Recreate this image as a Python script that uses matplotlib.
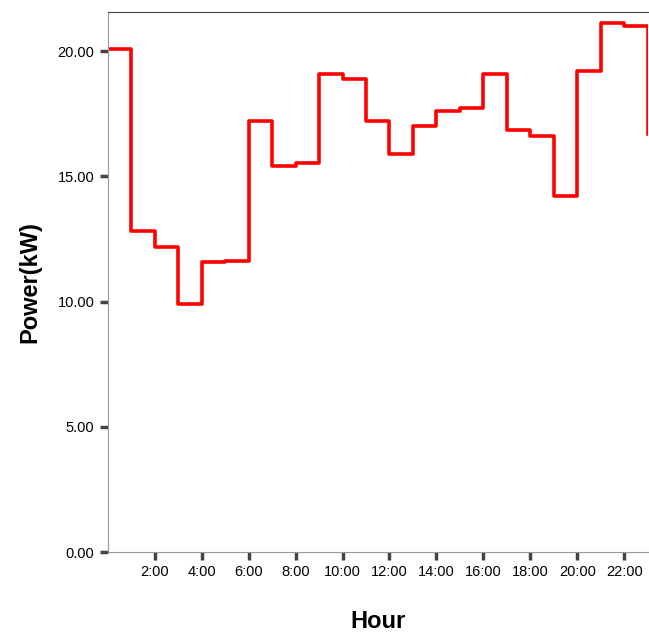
import matplotlib
matplotlib.use('Agg')
import matplotlib.pyplot as plt
import numpy as np

plt.rcParams['font.family'] = ['Liberation Sans', 'DejaVu Sans']

# hourly power values (kW), step drawn from each hour
hours = list(range(24))
power = [20.07, 12.83, 12.18, 9.9, 11.58, 11.64, 17.2, 15.4, 15.55, 19.1,
         18.88, 17.2, 15.9, 17.0, 17.6, 17.73, 19.1, 16.86, 16.6, 14.2,
         19.22, 21.14, 21.0, 16.7]
xtick_hours = [2, 4, 6, 8, 10, 12, 14, 16, 18, 20, 22]
ytick_vals = [0, 5, 10, 15, 20]

fig = plt.figure(figsize=(6.49, 6.34), dpi=100)
ax = fig.add_axes([0.166, 0.129, 0.832, 0.852])

ax.step(hours, power, where='post', color='#ff0000', lw=2.6)

ax.set_xlim(0, 23)
ax.set_ylim(0, 21.56)
ax.set_xticks(xtick_hours)
ax.set_xticklabels(['%d:00' % h for h in xtick_hours])
ax.set_yticks(ytick_vals)
ax.set_yticklabels(['%.2f' % v for v in ytick_vals])
ax.tick_params(axis='both', direction='out', length=6, width=2.5, color='#444444', labelsize=10.5)

for s in ['left', 'bottom']:
    ax.spines[s].set_color('#999999')
ax.spines['top'].set_color('#444444')
ax.spines['right'].set_visible(False)

ax.set_xlabel('Hour', fontsize=17, fontweight='bold', labelpad=22)
ax.set_ylabel('Power(kW)', fontsize=17, fontweight='bold', labelpad=12)

fig.savefig('out.png', dpi=100, facecolor='white')
